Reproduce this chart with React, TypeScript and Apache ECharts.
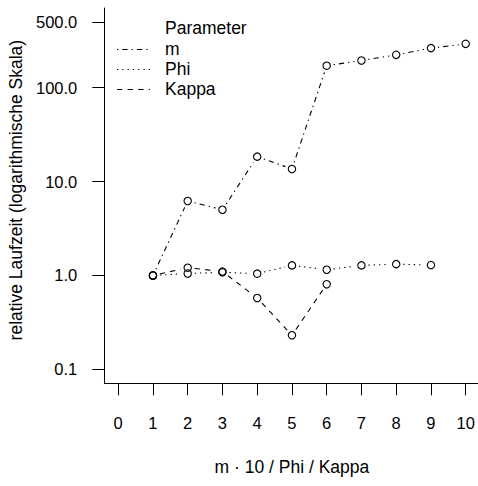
import React, { useEffect, useRef } from "react";
import * as echarts from "echarts";

// x positions (m · 10 / Phi / Kappa)
const mX = [1, 2, 3, 4, 5, 6, 7, 8, 9, 10];
const phiX = [1, 2, 3, 4, 5, 6, 7, 8, 9];
const kappaX = [1, 2, 3, 4, 5, 6];

// relative runtime per parameter
const mValues = [1.0, 6.2, 5.0, 18.4, 13.6, 171, 194, 223, 263, 292];
const phiValues = [1.0, 1.05, 1.08, 1.045, 1.28, 1.15, 1.28, 1.32, 1.29];
const kappaValues = [1.0, 1.21, 1.1, 0.576, 0.231, 0.806];

const xTicks = [0, 1, 2, 3, 4, 5, 6, 7, 8, 9, 10];
const yTicks = [0.1, 1, 10, 100, 500];

const legendTitle = "Parameter";
const legendNames = ["m", "Phi", "Kappa"];

const FONT = "'Liberation Sans', Arial, Helvetica, sans-serif";
const FS = 16.5;
const FS_TITLE = 17.5;

// R-like dash patterns: dotdash, dotted, dashed
const dashes: number[][] = [
  [1.3, 4, 5.3, 4],
  [1.3, 4],
  [5.3, 5.3],
];

function buildData(xs: number[], ys: number[]) {
  return xs.map((x, i) => [x, ys[i], i > 0 ? xs[i - 1] : x, i > 0 ? ys[i - 1] : ys[i], i]);
}

// type="b" style: open circles with line segments that stop short of each point
function makeRenderItem(dash: number[]) {
  return (params: any, api: any) => {
    const cur = api.coord([api.value(0), api.value(1)]);
    const idx = api.value(4);
    const children: any[] = [
      {
        type: "circle",
        shape: { cx: cur[0], cy: cur[1], r: 3.7 },
        style: { fill: "none", stroke: "#000", lineWidth: 1.1 },
      },
    ];
    if (idx > 0) {
      const prev = api.coord([api.value(2), api.value(3)]);
      const dx = cur[0] - prev[0];
      const dy = cur[1] - prev[1];
      const len = Math.sqrt(dx * dx + dy * dy);
      const gap = 7;
      if (len > 2 * gap) {
        const ux = dx / len;
        const uy = dy / len;
        children.push({
          type: "line",
          shape: {
            x1: prev[0] + ux * gap,
            y1: prev[1] + uy * gap,
            x2: cur[0] - ux * gap,
            y2: cur[1] - uy * gap,
          },
          style: { stroke: "#000", lineWidth: 1.1, lineDash: dash },
        });
      }
    }
    return { type: "group", children };
  };
}

export default function App() {
  const ref = useRef<HTMLDivElement>(null);

  useEffect(() => {
    if (!ref.current) return;
    const chart = echarts.init(ref.current, null, { renderer: "svg" });

    const gridLeft = 104.3;
    const gridTop = 8;
    const gridWidth = 375.3;
    const gridHeight = 375.3;

    const legendItems: any[] = [
      {
        type: "text",
        left: 165,
        top: 18.5,
        style: { text: legendTitle, font: `${FS_TITLE}px ${FONT}`, fill: "#000" },
      },
    ];
    legendNames.forEach((name, i) => {
      const cy = 49.5 + i * 20;
      legendItems.push({
        type: "line",
        shape: { x1: 117, y1: cy, x2: 150, y2: cy },
        style: { stroke: "#000", lineWidth: 1.1, lineDash: dashes[i] },
      });
      legendItems.push({
        type: "text",
        left: 165,
        top: cy - 10,
        style: { text: name, font: `${FS_TITLE}px ${FONT}`, fill: "#000" },
      });
    });

    chart.setOption({
      animation: false,
      backgroundColor: "#fff",
      textStyle: { fontFamily: FONT },
      grid: {
        left: gridLeft,
        top: gridTop,
        width: gridWidth,
        height: gridHeight,
        containLabel: false,
        outerBoundsMode: "none",
      },
      xAxis: {
        type: "value",
        min: -0.4,
        max: 10.4,
        name: "m · 10 / Phi / Kappa",
        nameLocation: "middle",
        nameGap: 75,
        nameTextStyle: { fontSize: FS_TITLE, color: "#000", fontFamily: FONT },
        splitLine: { show: false },
        axisLine: { show: true, onZero: false, lineStyle: { color: "#000", width: 1 } },
        axisTick: { show: true, customValues: xTicks, length: 12, lineStyle: { color: "#000", width: 1 } },
        axisLabel: {
          customValues: xTicks,
          margin: 31,
          fontSize: FS,
          color: "#000",
          fontFamily: FONT,
          formatter: (v: number) => String(v),
        },
      },
      yAxis: {
        type: "log",
        logBase: 10,
        min: Math.pow(10, -1.148),
        max: Math.pow(10, 2.847),
        name: "relative Laufzeit (logarithmische Skala)",
        nameLocation: "middle",
        nameGap: 78,
        nameRotate: 90,
        nameTextStyle: { fontSize: FS_TITLE, color: "#000", fontFamily: FONT, padding: [0, 0, 0, 11] },
        splitLine: { show: false },
        axisLine: { show: true, onZero: false, lineStyle: { color: "#000", width: 1 } },
        axisTick: { show: true, customValues: yTicks, length: 12, lineStyle: { color: "#000", width: 1 } },
        axisLabel: {
          customValues: yTicks,
          margin: 27,
          fontSize: FS,
          color: "#000",
          fontFamily: FONT,
          formatter: (v: number) => Number(v).toFixed(1),
        },
      },
      series: [
        {
          type: "custom",
          name: "m",
          renderItem: makeRenderItem(dashes[0]),
          data: buildData(mX, mValues),
          encode: { x: 0, y: 1 },
          clip: false,
        },
        {
          type: "custom",
          name: "Phi",
          renderItem: makeRenderItem(dashes[1]),
          data: buildData(phiX, phiValues),
          encode: { x: 0, y: 1 },
          clip: false,
        },
        {
          type: "custom",
          name: "Kappa",
          renderItem: makeRenderItem(dashes[2]),
          data: buildData(kappaX, kappaValues),
          encode: { x: 0, y: 1 },
          clip: false,
        },
      ],
      graphic: legendItems,
    });

    return () => chart.dispose();
  }, []);

  return (
    <div
      ref={ref}
      style={{ position: "fixed", left: 0, top: 0, width: 478, height: 486, background: "#fff" }}
    />
  );
}
